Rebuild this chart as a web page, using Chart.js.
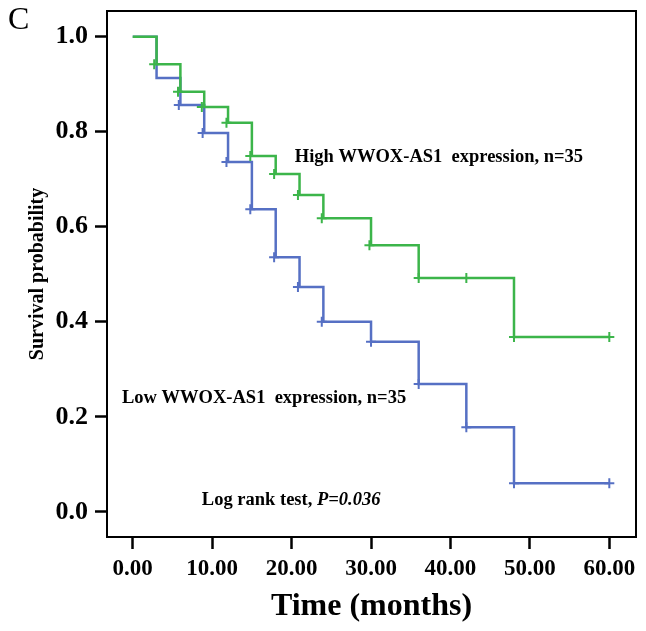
<!DOCTYPE html>
<html>
<head>
<meta charset="utf-8">
<script src="https://cdn.jsdelivr.net/npm/chart.js@4/dist/chart.umd.min.js"></script>
<style>
html,body{margin:0;padding:0;background:#fff;}
canvas{display:block;}
</style>
</head>
<body>
<canvas id="c" width="646" height="631"></canvas>
<script>
// ---- data ----
const xTicks = [0, 10, 20, 30, 40, 50, 60];
const yTicks = [0, 0.2, 0.4, 0.6, 0.8, 1.0];

const highTimes = [0, 3, 6, 9, 12, 15, 18, 21, 24, 30, 36, 48, 60];
const highSurv  = [1.0, 0.942, 0.884, 0.852, 0.819, 0.749, 0.711, 0.667, 0.618, 0.561, 0.492, 0.368, 0.368];
const highCensorTimes = [2.7, 5.7, 8.7, 11.8, 14.8, 17.8, 20.8, 23.8, 29.8, 36, 42, 48, 60];
const highCensorSurv  = [0.942, 0.884, 0.852, 0.819, 0.749, 0.711, 0.667, 0.618, 0.561, 0.492, 0.492, 0.368, 0.368];

const lowTimes = [0, 3, 6, 9, 12, 15, 18, 21, 24, 30, 36, 42, 48, 60];
const lowSurv  = [1.0, 0.913, 0.856, 0.797, 0.736, 0.637, 0.536, 0.473, 0.400, 0.358, 0.269, 0.178, 0.060, 0.060];
const lowCensorTimes = [5.8, 8.8, 11.8, 14.8, 17.8, 20.8, 23.8, 30, 36, 42, 48, 60];
const lowCensorSurv  = [0.856, 0.797, 0.736, 0.637, 0.536, 0.473, 0.400, 0.358, 0.269, 0.178, 0.060, 0.060];

const highLabel = 'High WWOX-AS1  expression, n=35';
const lowLabel  = 'Low WWOX-AS1  expression, n=35';
const testLabel = 'Log rank test, ';
const pLabel    = 'P=0.036';
const panelLabel = 'C';

// ---- styling ----
const GREEN = '#3cb54a';
const BLUE  = '#5670c4';
const SERIF = '"Liberation Serif", "Times New Roman", serif';

const toXY = (xs, ys) => xs.map((x, i) => ({x: x, y: ys[i]}));
const noPad = s => { s.paddingTop = 0; s.paddingBottom = 0; s.paddingLeft = 0; s.paddingRight = 0; };

const textPlugin = {
  id: 'frameAndText',
  afterDraw(chart) {
    const {ctx, chartArea: a, scales: {x, y}} = chart;
    ctx.save();
    ctx.strokeStyle = '#000';
    ctx.lineWidth = 2;
    ctx.strokeRect(a.left, a.top, a.right - a.left, a.bottom - a.top);

    ctx.fillStyle = '#000';
    ctx.textBaseline = 'middle';
    ctx.textAlign = 'left';
    ctx.font = 'bold 18.5px ' + SERIF;
    ctx.fillText(highLabel, x.getPixelForValue(20.4), y.getPixelForValue(0.747));
    ctx.fillText(lowLabel, x.getPixelForValue(-1.35), y.getPixelForValue(0.239));
    const tx = x.getPixelForValue(8.7), ty = y.getPixelForValue(0.025);
    ctx.fillText(testLabel, tx, ty);
    const w = ctx.measureText(testLabel).width;
    ctx.font = 'italic bold 18.5px ' + SERIF;
    ctx.fillText(pLabel, tx + w, ty);

    ctx.font = '32px ' + SERIF;
    ctx.textBaseline = 'top';
    ctx.fillText(panelLabel, 8, 5);
    ctx.restore();
  }
};

new Chart(document.getElementById('c'), {
  type: 'scatter',
  data: {
    datasets: [
      {
        label: 'High',
        data: toXY(highTimes, highSurv),
        showLine: true, stepped: 'before',
        borderColor: GREEN, borderWidth: 2.5, pointRadius: 0, fill: false
      },
      {
        label: 'High censored',
        data: toXY(highCensorTimes, highCensorSurv),
        showLine: false, pointStyle: 'cross', pointRadius: 5,
        borderColor: GREEN, pointBorderWidth: 2
      },
      {
        label: 'Low',
        data: toXY(lowTimes, lowSurv),
        showLine: true, stepped: 'before',
        borderColor: BLUE, borderWidth: 2.5, pointRadius: 0, fill: false
      },
      {
        label: 'Low censored',
        data: toXY(lowCensorTimes, lowCensorSurv),
        showLine: false, pointStyle: 'cross', pointRadius: 5,
        borderColor: BLUE, pointBorderWidth: 2
      }
    ]
  },
  options: {
    responsive: false,
    animation: false,
    devicePixelRatio: 1,
    layout: {padding: {top: 11, right: 10, left: 0, bottom: 0}},
    plugins: {legend: {display: false}, tooltip: {enabled: false}},
    scales: {
      x: {
        type: 'linear', min: -3.24, max: 63.36,
        afterBuildTicks: s => { s.ticks = xTicks.map(v => ({value: v})); },
        afterFit: s => { s.height = 94; noPad(s); },
        border: {display: false},
        grid: {display: true, drawOnChartArea: false, drawTicks: true, tickLength: 12, tickWidth: 2.5, tickColor: '#000'},
        ticks: {
          color: '#000', padding: 6, maxRotation: 0,
          font: {family: SERIF, weight: 'bold', size: 23},
          callback: v => Number(v).toFixed(2)
        },
        title: {
          display: true, text: 'Time (months)', color: '#000',
          font: {family: SERIF, weight: 'bold', size: 32},
          padding: {top: 0, bottom: 5}
        }
      },
      y: {
        type: 'linear', min: -0.053, max: 1.054,
        afterBuildTicks: s => { s.ticks = yTicks.map(v => ({value: v})); },
        afterFit: s => { s.width = 107; noPad(s); },
        border: {display: false},
        grid: {display: true, drawOnChartArea: false, drawTicks: true, tickLength: 12, tickWidth: 2.5, tickColor: '#000'},
        ticks: {
          color: '#000', padding: 7,
          font: {family: SERIF, weight: 'bold', size: 26},
          callback: v => Number(v).toFixed(1)
        },
        title: {
          display: true, text: 'Survival probability', color: '#000',
          font: {family: SERIF, weight: 'bold', size: 20},
          padding: {top: 26, bottom: 0}
        }
      }
    }
  },
  plugins: [textPlugin]
});
</script>
</body>
</html>
